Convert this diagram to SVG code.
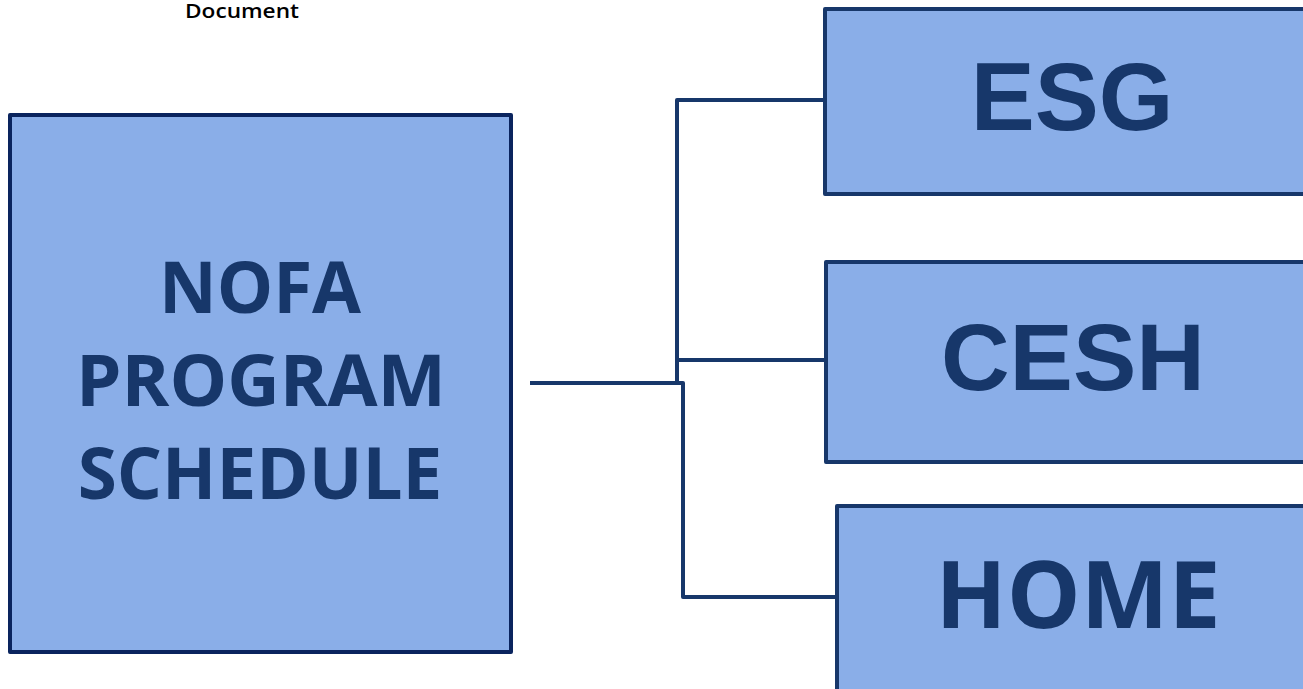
<svg xmlns="http://www.w3.org/2000/svg" width="1303" height="689" viewBox="0 0 1303 689">
<style>
.box{fill:#8aaee8;stroke:#17376a;stroke-width:4;stroke-linejoin:round}
.main{stroke:#0a245e}
.conn{fill:none;stroke:#17376a;stroke-width:4;stroke-linejoin:round}
.cal{font-family:"Open Sans","Noto Sans",sans-serif;font-weight:bold;fill:#17376a;text-anchor:middle}
.ari{font-family:"Liberation Sans",Arial,sans-serif;font-weight:bold;fill:#17376a;text-anchor:middle}
</style>
<rect width="1303" height="689" fill="#ffffff"/>
<text x="185" y="18" font-family="'Open Sans','Noto Sans',sans-serif" font-weight="600" font-size="19" fill="#000" textLength="114" lengthAdjust="spacingAndGlyphs">Document</text>
<g id="connectors">
<polyline class="conn" points="530,383 683,383 683,597 836,597"/>
<polyline class="conn" points="677,383 677,100 824,100"/>
<line class="conn" x1="677" y1="360" x2="825" y2="360"/>
</g>
<g id="nofa">
<rect class="box main" x="10" y="115" width="501" height="537"/>
<text class="cal" x="260" y="313" font-size="71">NOFA</text>
<text class="cal" x="261" y="406" font-size="72" textLength="370" lengthAdjust="spacingAndGlyphs">PROGRAM</text>
<text class="cal" x="260" y="499" font-size="71">SCHEDULE</text>
</g>
<g id="esg">
<rect class="box" x="825" y="9" width="490" height="185"/>
<text class="ari" x="1072" y="130" font-size="96">ESG</text>
</g>
<g id="cesh">
<rect class="box" x="826" y="262" width="490" height="200"/>
<text class="ari" x="1073" y="390" font-size="95">CESH</text>
</g>
<g id="home">
<rect class="box" x="837" y="506" width="480" height="200"/>
<text class="cal" x="1078" y="628" font-size="93">HOME</text>
</g>
</svg>
